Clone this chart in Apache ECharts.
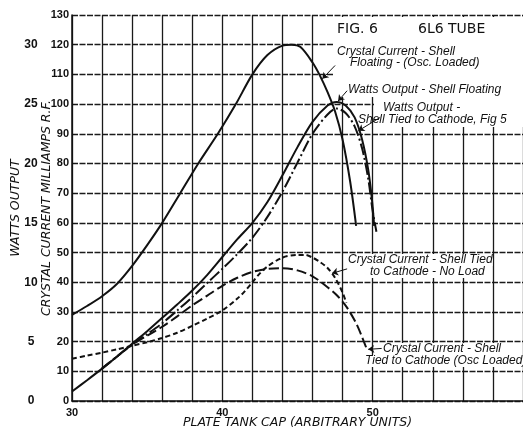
<!DOCTYPE html>
<html>
<head>
<meta charset="utf-8">
<script src="https://cdn.jsdelivr.net/npm/echarts@6/dist/echarts.min.js"></script>
<style>
  html, body { margin: 0; padding: 0; background: #fff; }
  #chart { width: 523px; height: 431px; }
</style>
</head>
<body>
<div id="chart"></div>
<script>
// plate tank cap (x) vs crystal current mA (y); watts = mA / 4
var crystalFloating = [[30, 29], [31, 32], [32, 35.3], [33, 39.5], [34, 45.5], [35, 52.5], [36, 60],
  [37.2, 70], [38.4, 80], [39.7, 90], [40.9, 100], [42, 110], [43, 116.5], [44, 119.7], [44.6, 120],
  [45.2, 119.2], [46, 114], [46.5, 109.5], [47, 104], [47.5, 97.5], [48, 88], [48.5, 74], [48.9, 59]]

var wattsFloating = [[30, 3.2], [31, 7], [32, 10.9], [33, 15], [34, 19.3], [35, 23.5], [36, 28],
  [37, 32.5], [38, 37.2], [39, 42.5], [40, 48.5], [41, 54.5], [42, 60], [43, 67], [44, 76],
  [45, 85.5], [46, 94], [47, 99.5], [47.6, 100.7], [48.2, 99.5], [48.8, 95.5], [49.3, 88],
  [49.7, 78], [49.95, 68], [50.1, 59]]

var wattsTied = [[32, 10.9], [33, 15], [34, 19], [35, 22.5], [36, 26.2], [37, 30.5], [38, 35],
  [39, 39.8], [40, 44.5], [41, 49.5], [42, 55], [43, 62], [44, 70.5], [45, 80.3], [46, 90],
  [47, 96.5], [47.6, 98.5], [48.2, 97], [48.8, 92.5], [49.3, 85], [49.7, 75], [50, 64], [50.25, 57]]

var crystalNoLoad = [[30, 14.2], [31, 15.3], [32, 16.3], [33, 17.4], [34, 18.6], [35, 19.8],
  [36, 21.2], [37, 23], [38, 25.3], [39, 27.8], [40, 30.5], [41, 34.5], [41.5, 37], [42, 40],
  [42.5, 43], [43, 45.3], [44, 48.3], [45, 49.2], [45.5, 49.2], [46, 48.3], [46.5, 46.8],
  [47, 44.8], [47.5, 41.5], [48, 36.5], [48.25, 33]]

var crystalLoaded = [[32, 11], [33, 15], [34, 19], [35, 22], [36, 25], [37, 28.5], [38, 32.2],
  [39, 35.5], [40, 38.8], [41, 41.5], [42, 43.5], [43, 44.5], [44, 44.7], [45, 44], [46, 42],
  [47, 38.3], [47.6, 35.7], [48.25, 31.8], [48.9, 26.2], [49.3, 21.5], [49.6, 17.6]]

// leader arrows: [from, to] in data units
var arrowFloating = [[47.5, 113], [46.65, 108.5]]
var arrowWattsFloating = [[48.3, 104.5], [47.7, 101]]
var arrowWattsTied = [[50.5, 95.5], [49.05, 91]]
var arrowNoLoad = [[48.3, 44.5], [47.3, 43]]
var arrowLoaded = [[50.6, 17.7], [49.7, 17.4]]

var xLabels = [30, 40, 50]

var ink = '#111'
var labelFont = { fontFamily: 'Liberation Sans', fontStyle: 'italic', fontSize: 12, fill: ink }
var titleFont = { fontFamily: 'DejaVu Sans', fontStyle: 'italic', fontSize: 12.5, color: ink }

function arrow(pair) {
  return {
    silent: true,
    symbol: ['none', 'arrow'],
    symbolSize: 6,
    label: { show: false },
    lineStyle: { color: ink, type: 'solid', width: 1 },
    data: [[{ coord: pair[0] }, { coord: pair[1] }]]
  }
}

function curve(name, data, type, width, mark) {
  return {
    name: name,
    type: 'line',
    data: data,
    smooth: 0.3,
    showSymbol: false,
    yAxisIndex: 0,
    lineStyle: { color: ink, width: width, type: type },
    markLine: mark ? arrow(mark) : undefined
  }
}

function txt(text, x, y, opts) {
  var style = Object.assign({ text: text, x: x, y: y }, labelFont, opts || {})
  return { type: 'text', z: 1, style: style }
}

var chart = echarts.init(document.getElementById('chart'))
chart.setOption({
  animation: false,
  backgroundColor: '#fff',
  grid: { left: 72, right: 0, top: 15, bottom: 30, containLabel: false, outerBoundsMode: 'none' },
  xAxis: {
    type: 'value',
    min: 30,
    max: 60,
    interval: 2,
    name: 'PLATE TANK CAP (ARBITRARY UNITS)',
    nameLocation: 'middle',
    nameGap: 15,
    nameMoveOverlap: false,
    nameTextStyle: titleFont,
    axisLine: { lineStyle: { color: ink, width: 1.5 } },
    axisTick: { show: false },
    axisLabel: {
      margin: 6,
      color: ink,
      fontFamily: 'Liberation Sans',
      fontWeight: 'bold',
      fontSize: 11,
      formatter: function (v) { return xLabels.indexOf(v) >= 0 ? String(v) : '' }
    },
    splitLine: { lineStyle: { color: '#1a1a1a', width: 1.3 } }
  },
  yAxis: [
    {
      type: 'value',
      min: 0,
      max: 130,
      interval: 10,
      name: 'CRYSTAL CURRENT MILLIAMPS R.F.',
      nameLocation: 'middle',
      nameGap: 19,
      nameMoveOverlap: false,
      nameTextStyle: titleFont,
      axisLine: { show: true, lineStyle: { color: ink, width: 1.5 } },
      axisTick: { show: false },
      axisLabel: { margin: 3, color: ink, fontFamily: 'Liberation Sans', fontWeight: 'bold', fontSize: 11 },
      splitLine: { lineStyle: { color: '#1a1a1a', width: 1.3, type: [6, 1.5] } }
    },
    {
      type: 'value',
      min: 0,
      max: 32.5,
      interval: 5,
      position: 'left',
      name: 'WATTS OUTPUT',
      nameLocation: 'middle',
      nameGap: 50,
      nameMoveOverlap: false,
      nameTextStyle: titleFont,
      axisLine: { show: false },
      axisTick: { show: false },
      splitLine: { show: false },
      axisLabel: {
        margin: 41, align: 'center', showMaxLabel: false,
        color: ink, fontFamily: 'Liberation Sans', fontWeight: 'bold', fontSize: 12
      }
    }
  ],
  graphic: [
    { type: 'rect', z: 1, shape: { x: 334, y: 17, width: 189, height: 80 }, style: { fill: '#fff' } },
    { type: 'rect', z: 1, shape: { x: 374, y: 97, width: 149, height: 30 }, style: { fill: '#fff' } },
    txt('FIG. 6', 337, 22, { fontStyle: 'normal', fontFamily: 'DejaVu Sans', fontSize: 14 }),
    txt('6L6 TUBE', 418, 22, { fontStyle: 'normal', fontFamily: 'DejaVu Sans', fontSize: 14 }),
    txt('Crystal Current - Shell', 337, 46),
    txt('Floating - (Osc. Loaded)', 350, 57),
    txt('Watts Output - Shell Floating', 348, 84),
    txt('Watts Output -', 383, 102),
    txt('Shell Tied to Cathode, Fig 5', 358, 114),
    txt('Crystal Current - Shell Tied', 348, 254, { backgroundColor: '#fff' }),
    txt('to Cathode - No Load', 370, 266, { backgroundColor: '#fff' }),
    txt('Crystal Current - Shell', 383, 343, { backgroundColor: '#fff' }),
    txt('Tied to Cathode (Osc Loaded)', 365, 355, { backgroundColor: '#fff' })
  ],
  series: [
    curve('Crystal Current - Shell Floating - (Osc. Loaded)', crystalFloating, 'solid', 2, arrowFloating),
    curve('Watts Output - Shell Floating', wattsFloating, 'solid', 2, arrowWattsFloating),
    curve('Watts Output - Shell Tied to Cathode, Fig 5', wattsTied, [12, 3, 2, 3], 2, arrowWattsTied),
    curve('Crystal Current - Shell Tied to Cathode - No Load', crystalNoLoad, [5, 3], 2, arrowNoLoad),
    curve('Crystal Current - Shell Tied to Cathode (Osc Loaded)', crystalLoaded, [10, 4], 2, arrowLoaded)
  ]
})
</script>
</body>
</html>
